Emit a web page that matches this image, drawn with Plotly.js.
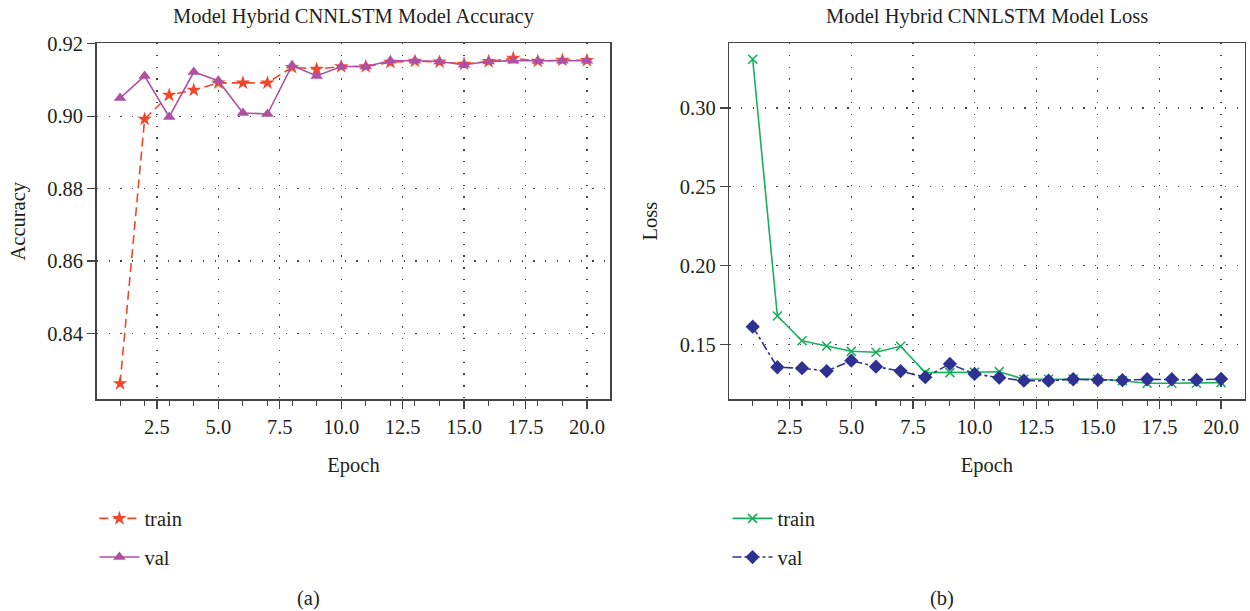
<!DOCTYPE html>
<html>
<head>
<meta charset="utf-8">
<script src="https://cdn.plot.ly/plotly-3.0.1.min.js"></script>
<style>html,body{margin:0;padding:0;background:#fff;}#chart{width:1250px;height:611px;}</style>
</head>
<body>
<div id="chart"></div>
<script>
const epochs = [1,2,3,4,5,6,7,8,9,10,11,12,13,14,15,16,17,18,19,20];
const accTrain = [0.8262,0.8992,0.9058,0.9072,0.9092,0.9092,0.9092,0.9135,0.9130,0.9137,0.9137,0.9149,0.9152,0.9150,0.9144,0.9151,0.9160,0.9152,0.9155,0.9154];
const accVal   = [0.9050,0.9111,0.8998,0.9122,0.9098,0.9009,0.9006,0.9140,0.9111,0.9137,0.9137,0.9153,0.9153,0.9151,0.9142,0.9151,0.9153,0.9152,0.9153,0.9153];
const lossTrain = [0.3308,0.1682,0.1525,0.1492,0.1458,0.1452,0.1490,0.1323,0.1323,0.1325,0.1329,0.1281,0.1281,0.1283,0.1281,0.1272,0.1256,0.1256,0.1256,0.1260];
const lossVal   = [0.1614,0.1357,0.1351,0.1333,0.1399,0.1361,0.1333,0.1294,0.1378,0.1315,0.1291,0.1272,0.1272,0.1281,0.1277,0.1275,0.1281,0.1281,0.1277,0.1283];
const seriesNames = ['train','val'];
const titles = ['Model Hybrid CNNLSTM Model Accuracy','Model Hybrid CNNLSTM Model Loss'];
const yTitles = ['Accuracy','Loss'];
const xTitle = 'Epoch';
const panelLabels = ['(a)','(b)'];

const FONT = 'Liberation Serif, Times New Roman, serif';
const TXT = '#231f20';

const traces = [
  {x: epochs, y: accTrain, name: seriesNames[0], xaxis:'x', yaxis:'y', legend:'legend', legendgroup:'a1',
   mode:'lines+markers', line:{color:'#f0472b', width:1.6, dash:'9px,5px'},
   marker:{symbol:'star', size:11, color:'#f0472b'}},
  {x: epochs, y: accVal, name: seriesNames[1], xaxis:'x', yaxis:'y', legend:'legend', legendgroup:'a2',
   mode:'lines+markers', line:{color:'#b050a3', width:1.6},
   marker:{symbol:'triangle-up', size:11, color:'#b050a3'}},
  {x: epochs, y: lossTrain, name: seriesNames[0], xaxis:'x2', yaxis:'y2', legend:'legend2', legendgroup:'b1',
   mode:'lines+markers', line:{color:'#17b05c', width:1.6},
   marker:{symbol:'x-thin', size:9, color:'#17b05c', line:{color:'#17b05c', width:1.6}}},
  {x: epochs, y: lossVal, name: seriesNames[1], xaxis:'x2', yaxis:'y2', legend:'legend2', legendgroup:'b2',
   mode:'lines+markers', line:{color:'#2e3192', width:1.6, dash:'dashdot'},
   marker:{symbol:'diamond', size:11, color:'#2e3192'}}
];

const gridStyle = {showgrid:true, gridcolor:'#444', gridwidth:1.3, griddash:'1.3px,10.5px'};
function xAxis(domain, anchor){
  return Object.assign({
    domain: domain, anchor: anchor, range:[0.05,20.95], tickmode:'linear', tick0:0, dtick:2.5,
    tickformat:'.1f', ticks:'outside', ticklen:8, tickwidth:1.3, tickcolor:'#444',
    minor:{tickmode:'linear', tick0:0, dtick:1, ticks:'outside', ticklen:5, tickwidth:1.1, tickcolor:'#444', showgrid:false},
    showline:true, linecolor:'#444', linewidth:1.5, mirror:true, zeroline:false, automargin:false,
    tickfont:{family:FONT, size:20.5, color:TXT},
    title:{text:xTitle, font:{family:FONT, size:20.5, color:TXT}, standoff:21}
  }, gridStyle);
}
function yAxis(domain, anchor, range, dtick, title){
  return Object.assign({
    domain: domain, anchor: anchor, range: range, tickmode:'linear', tick0:0, dtick:dtick,
    tickformat:'.2f', ticks:'outside', ticklen:8, tickwidth:1.3, tickcolor:'#444',
    showline:true, linecolor:'#444', linewidth:1.5, mirror:true, zeroline:false, automargin:false,
    tickfont:{family:FONT, size:20.5, color:TXT},
    title:{text:title, font:{family:FONT, size:20.5, color:TXT}, standoff:16}
  }, gridStyle);
}

const ydom = [0.3462, 0.9296];
const xdom1 = [0.07736, 0.48824];
const xdom2 = [0.58344, 0.9956];

const legendBase = {
  font:{family:FONT, size:20.5, color:TXT}, bgcolor:'rgba(0,0,0,0)', borderwidth:0,
  traceorder:'grouped', tracegroupgap:9, itemwidth:40, yanchor:'top', xanchor:'left'
};

const layout = {
  width:1250, height:611, margin:{l:0,r:0,t:0,b:0},
  paper_bgcolor:'#fff', plot_bgcolor:'#fff', showlegend:true,
  font:{family:FONT, color:TXT},
  xaxis: xAxis(xdom1, 'y'),
  yaxis: yAxis(ydom, 'x', [0.8218, 0.9202], 0.02, yTitles[0]),
  xaxis2: xAxis(xdom2, 'y2'),
  yaxis2: yAxis(ydom, 'x2', [0.1153, 0.3411], 0.05, yTitles[1]),
  legend: Object.assign({x:0.0755, y:0.184}, legendBase),
  legend2: Object.assign({x:0.582, y:0.184}, legendBase),
  annotations: [
    {text:titles[0], xref:'paper', yref:'paper', x:(xdom1[0]+xdom1[1])/2, y:1-16/611, xanchor:'center', yanchor:'middle', showarrow:false, font:{family:FONT, size:20.5, color:TXT}},
    {text:titles[1], xref:'paper', yref:'paper', x:(xdom2[0]+xdom2[1])/2, y:1-16/611, xanchor:'center', yanchor:'middle', showarrow:false, font:{family:FONT, size:20.5, color:TXT}},
    {text:panelLabels[0], xref:'paper', yref:'paper', x:308/1250, y:1-598/611, xanchor:'center', yanchor:'middle', showarrow:false, font:{family:FONT, size:20.5, color:TXT}},
    {text:panelLabels[1], xref:'paper', yref:'paper', x:942/1250, y:1-598/611, xanchor:'center', yanchor:'middle', showarrow:false, font:{family:FONT, size:20.5, color:TXT}}
  ]
};

Plotly.newPlot('chart', traces, layout, {displayModeBar:false, staticPlot:true});
</script>
</body>
</html>
